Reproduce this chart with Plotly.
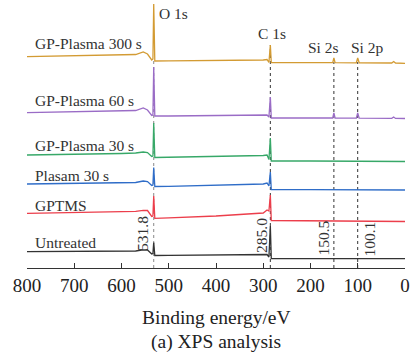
import plotly.graph_objects as go

# Binding energies (eV) of the breakpoints
energy = [800, 700, 600, 570, 554, 545, 536, 533.5, 531.8, 529.5, 500, 400, 300, 292, 288, 285, 283,
          200, 153, 150.5, 148, 103, 100.1, 97, 28, 24, 20, 0]

# Intensities (arbitrary units, stacked with offsets as in the figure)
gp_plasma_300 = [211.3, 212, 213, 213.5, 216, 214, 208, 209, 264, 207, 207.1, 207.4, 208, 208.5, 205.5, 223, 205.5,
                 205.4, 205.3, 210, 205.3, 205.2, 210, 205.2, 205, 206.5, 205, 204.7]
gp_plasma_60 = [155.3, 156, 157, 157.5, 160, 158, 152.5, 153, 201, 152, 152, 152.3, 152.7, 153, 151, 171, 150,
                150, 150, 155, 150, 149.8, 155, 149.8, 149.7, 151, 149.6, 149.5]
gp_plasma_30 = [113, 113.5, 114.5, 115, 116, 115.5, 111.5, 112, 145, 110.5, 110.7, 111.5, 112.5, 113, 108.5, 130, 107,
                107, 107, 107, 107, 106.9, 106.9, 106.9, 106.7, 106.7, 106.6, 106.5]
plasma_30 = [84, 84.5, 85.2, 85.5, 87, 86.5, 82.5, 83, 100.5, 81.5, 81.7, 82.5, 84, 85, 82, 96, 78.5,
             78.3, 78.2, 78.2, 78.2, 78.1, 78.1, 78.1, 78, 78, 78, 78]
gptms = [54.7, 55.5, 56.2, 56.7, 57.7, 57.5, 51.5, 52, 72, 49.7, 50.2, 52, 55, 58, 57, 73, 47.5,
         47.2, 47, 47, 47, 46.8, 46.8, 46.8, 46.6, 46.6, 46.5, 46.5]
untreated = [16.3, 16.5, 16.8, 17, 18.2, 18, 14, 14.5, 25.5, 12.5, 12.7, 12.8, 13, 13.5, 11, 42, 9.5,
             9.5, 9.4, 9.4, 9.4, 9.4, 9.4, 9.4, 9.3, 9.3, 9.3, 9.3]

series_names = ["GP-Plasma 300 s", "GP-Plasma 60 s", "GP-Plasma 30 s", "Plasam 30 s", "GPTMS", "Untreated"]
series_values = [gp_plasma_300, gp_plasma_60, gp_plasma_30, plasma_30, gptms, untreated]
series_colors = ["#D39B33", "#9A6CC6", "#37A868", "#2F6DC8", "#EC3E4B", "#333333"]
label_heights = [225, 168, 123, 93, 63, 26]

# Reference peak positions (eV)
peak_positions = [531.8, 285.0, 150.5, 100.1]
peak_labels = ["531.8", "285.0", "150.5", "100.1"]
line_tops = [210, 223, 206, 206]
line_colors = ["#888888", "#333333", "#333333", "#333333"]

# Peak assignment labels
element_labels = ["O 1s", "C 1s", "Si 2s", "Si 2p"]

x_ticks = [800, 700, 600, 500, 400, 300, 200, 100, 0]

FONT = "Liberation Serif, Times New Roman, serif"

fig = go.Figure()

for pos, top, col in zip(peak_positions, line_tops, line_colors):
    fig.add_shape(type="line", x0=pos, x1=pos, y0=0, y1=top, xref="x", yref="y",
                  line=dict(color=col, width=1, dash="dot"), layer="below")

for name, vals, col in zip(series_names, series_values, series_colors):
    fig.add_trace(go.Scatter(x=energy, y=vals, mode="lines", name=name,
                             line=dict(color=col, width=1.3), showlegend=False))

annotations = []
for name, h in zip(series_names, label_heights):
    annotations.append(dict(text=name, x=0.016, xref="paper", y=h, yref="y", xanchor="left",
                            yanchor="middle", showarrow=False, font=dict(family=FONT, size=15.5, color="#333")))

# element labels
el_pos = [(524.9, 255, "left"), (281.5, 235, "center"), (173.5, 221, "center"), (80.4, 221, "center")]
for txt, (ex, ey, anc) in zip(element_labels, el_pos):
    annotations.append(dict(text=txt, x=ex, y=ey, xref="x", yref="y", xanchor=anc, yanchor="middle",
                            showarrow=False, font=dict(family=FONT, size=15.5, color="#333")))

# rotated values
val_pos = [(555.6, 34.5), (304.8, 33), (174.6, 30), (77.2, 29)]
for txt, (vx, vy) in zip(peak_labels, val_pos):
    annotations.append(dict(text=txt, x=vx, y=vy, xref="x", yref="y", xanchor="center", yanchor="middle",
                            textangle=-90, showarrow=False, font=dict(family=FONT, size=15.5, color="#333")))

annotations.append(dict(text="Binding energy/eV", x=0.5, y=-0.183, xref="paper", yref="paper",
                        xanchor="center", yanchor="middle", showarrow=False,
                        font=dict(family=FONT, size=19.5, color="#222")))
annotations.append(dict(text="(a) XPS analysis", x=0.5, y=-0.276, xref="paper", yref="paper",
                        xanchor="center", yanchor="middle", showarrow=False,
                        font=dict(family=FONT, size=19.5, color="#222")))

fig.update_layout(
    width=412, height=356,
    margin=dict(l=27, r=7, t=0, b=88),
    paper_bgcolor="white", plot_bgcolor="white",
    annotations=annotations,
    xaxis=dict(range=[800, 0], tickvals=x_ticks, ticktext=[str(t) for t in x_ticks],
               showline=True, linecolor="#333", linewidth=1, ticks="inside", ticklen=5,
               tickcolor="#333", tickwidth=1, showgrid=False, zeroline=False,
               tickfont=dict(family=FONT, size=19, color="#222")),
    yaxis=dict(range=[0, 268], visible=False, showgrid=False, zeroline=False),
)

fig.write_html("out.html")
